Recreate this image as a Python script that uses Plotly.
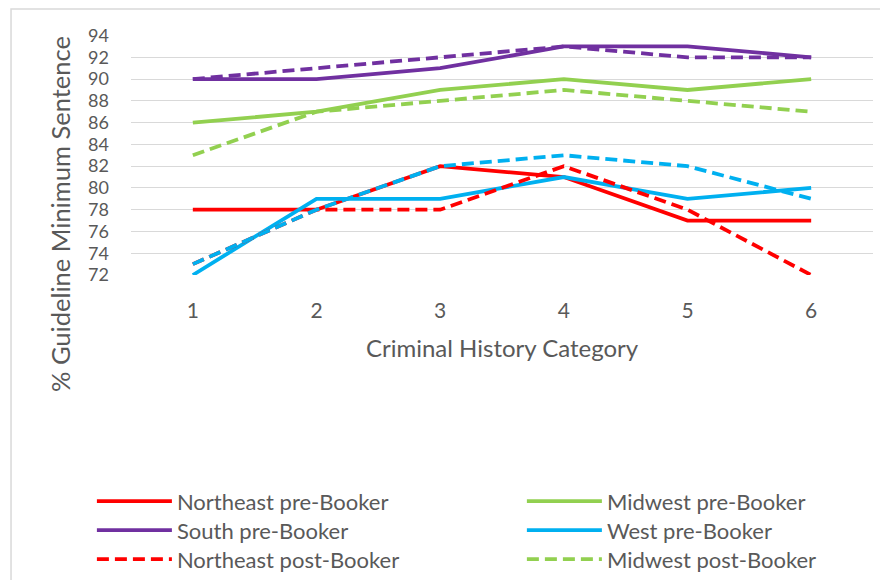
import plotly.graph_objects as go

categories = [1, 2, 3, 4, 5, 6]
y_ticks = [72, 74, 76, 78, 80, 82, 84, 86, 88, 90, 92, 94]

northeast_pre = [78, 78, 82, 81, 77, 77]
midwest_pre = [86, 87, 89, 90, 89, 90]
south_pre = [90, 90, 91, 93, 93, 92]
west_pre = [72, 79, 79, 81, 79, 80]
northeast_post = [73, 78, 78, 82, 78, 72]
midwest_post = [83, 87, 88, 89, 88, 87]
south_post = [90, 91, 92, 93, 92, 92]
west_post = [73, 78, 82, 83, 82, 79]

RED = "#FF0000"
GREEN = "#92D050"
PURPLE = "#7030A0"
BLUE = "#00B0F0"
TXT = "#595959"
FONT = "Lato"
DASH = "12px,6px"
W = 3.8

fig = go.Figure()

def add(name, y, color, dash, legend, show=True):
    fig.add_trace(go.Scatter(
        x=categories, y=y, name=name, mode="lines",
        line=dict(color=color, width=W, dash=dash),
        legend=legend, showlegend=show,
    ))

# each visible legend entry gets its own legend box (2 columns x 3 rows)
add("Northeast pre-Booker", northeast_pre, RED, "solid", "legend")
add("Midwest pre-Booker", midwest_pre, GREEN, "solid", "legend2")
add("South pre-Booker", south_pre, PURPLE, "solid", "legend3")
add("West pre-Booker", west_pre, BLUE, "solid", "legend4")
add("Northeast post-Booker", northeast_post, RED, DASH, "legend5")
add("Midwest post-Booker", midwest_post, GREEN, DASH, "legend6")
# not shown in legend (cropped in original)
add("South post-Booker", south_post, PURPLE, DASH, "legend", show=False)
add("West post-Booker", west_post, BLUE, DASH, "legend", show=False)

legend_common = dict(
    orientation="v", yanchor="top", xanchor="left",
    font=dict(family=FONT, size=22, color=TXT),
    itemwidth=75, bgcolor="rgba(0,0,0,0)",
)
col_x = [-0.0527, 0.5268]
row_y = [-0.8555, -0.976, -1.097]

fig.update_layout(
    width=888, height=580,
    margin=dict(l=123, r=23, t=27, b=313, autoexpand=False),
    paper_bgcolor="white", plot_bgcolor="white",
    font=dict(family=FONT, size=21, color=TXT),
    xaxis=dict(
        range=[0.5, 6.5], tickmode="array", tickvals=categories,
        ticktext=[str(c) for c in categories],
        showgrid=False, zeroline=False, showline=False, ticks="",
        ticklabelstandoff=21,
        tickfont=dict(family=FONT, size=21, color=TXT),
    ),
    yaxis=dict(
        range=[72, 94.05], tickmode="array", tickvals=y_ticks,
        showgrid=True, gridcolor="#D9D9D9", gridwidth=1.3,
        zeroline=False, showline=False, ticks="",
        ticklabelstandoff=21,
        tickfont=dict(family=FONT, size=18, color=TXT),
    ),
    legend=dict(x=col_x[0], y=row_y[0], **legend_common),
    legend2=dict(x=col_x[1], y=row_y[0], **legend_common),
    legend3=dict(x=col_x[0], y=row_y[1], **legend_common),
    legend4=dict(x=col_x[1], y=row_y[1], **legend_common),
    legend5=dict(x=col_x[0], y=row_y[2], **legend_common),
    legend6=dict(x=col_x[1], y=row_y[2], **legend_common),
    annotations=[
        dict(text="Criminal History Category", xref="paper", yref="paper",
             x=0.5, y=-0.304, xanchor="center", yanchor="middle",
             showarrow=False, font=dict(family=FONT, size=24, color=TXT)),
        dict(text="% Guideline Minimum Sentence", xref="paper", yref="paper",
             x=-0.0957, y=0.254, xanchor="center", yanchor="middle",
             textangle=-90, showarrow=False,
             font=dict(family=FONT, size=25.5, color=TXT)),
    ],
    shapes=[
        dict(type="rect", xref="paper", yref="paper",
             x0=-0.1617, x1=2, y0=-3, y1=1.1083,
             line=dict(color="#D9D9D9", width=1.5), fillcolor="rgba(0,0,0,0)",
             layer="below"),
    ],
    showlegend=True,
)

fig.write_html("out.html")
